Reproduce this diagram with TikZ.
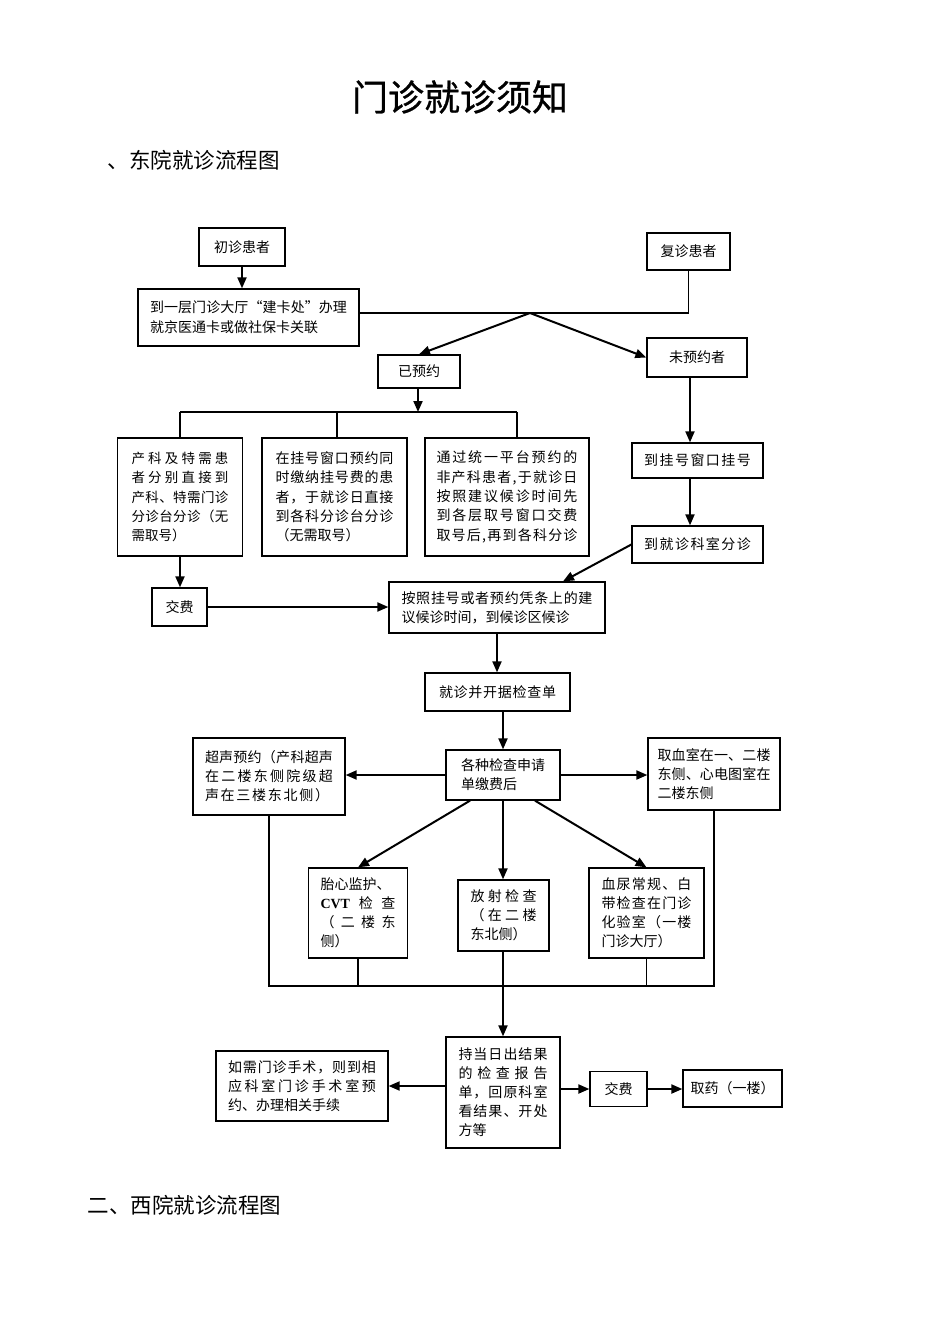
\documentclass[tikz,border=0pt]{standalone}
\usepackage{fontspec}
\setmainfont{Noto Sans CJK SC}
\newfontfamily\latinserif{Liberation Serif}
\newfontfamily\titlefont[FakeBold=0.8]{Noto Sans CJK SC}
\usetikzlibrary{arrows.meta}
\def\sprA#1{#1\sprB}
\def\sprB#1{\ifx#1\relax\else\hfil#1\expandafter\sprB\fi}
\newcommand\J[2]{\makebox[#1pt][s]{\sprA#2\relax}}
\begin{document}
\begin{tikzpicture}[x=1pt,y=-1pt,
  box/.style={draw, line width=1.3pt, inner sep=0pt, align=left, font=\fontsize{14}{19}\selectfont},
  sz/.style n args={2}{minimum width=#1pt, minimum height=#2pt},
  arr/.style={line width=2pt, -{Triangle[length=11pt,width=9pt]}},
  ln/.style={line width=1.3pt}]
\useasboundingbox[fill=white] (0,0) rectangle (950,1344);

% headings
\node[font=\titlefont\fontsize{36}{36}\selectfont] (title) at (460,97) {门诊就诊须知};
\node[anchor=west, font=\fontsize{21.5}{22}\selectfont] (h1) at (104,160) {、东院就诊流程图};
\node[anchor=west, font=\fontsize{21.5}{22}\selectfont] (h2) at (84,1205) {二、西院就诊流程图};

% top part
\node[box, sz={86}{38}] (n1) at (242,247) {初诊患者};
\node[box, sz={83}{37}] (n2) at (688.5,251.5) {复诊患者};
\node[box, sz={221}{57}, font=\fontsize{14}{20}\selectfont] (n3) at (248.5,317.5) {\J{197}{到一层门诊大厅“建卡处”办理}\\就京医通卡或做社保卡关联};
\node[box, sz={82}{33}] (n4) at (419,371.5) {已预约};
\node[box, sz={100}{39}] (n5) at (697,357.5) {未预约者};

\node[box, sz={125}{118}, font=\fontsize{13.5}{19.3}\selectfont] (nA) at (180,497)
  {\J{97}{产科及特需患}\\\J{97}{者分别直接到}\\\J{97}{产科、特需门诊}\\\J{97}{分诊台分诊（无}\\需取号）};
\node[box, sz={145}{118}, font=\fontsize{14}{19.3}\selectfont] (nB) at (334.5,497)
  {\J{118}{在挂号窗口预约同}\\\J{118}{时缴纳挂号费的患}\\\J{118}{者，于就诊日直接}\\\J{118}{到各科分诊台分诊}\\（无需取号）};
\node[box, sz={164}{118}, font=\fontsize{14}{19.3}\selectfont] (nC) at (507,497)
  {\J{141}{通过统一平台预约的}\\\J{141}{非产科患者,于就诊日}\\\J{141}{按照建议候诊时间先}\\\J{141}{到各层取号窗口交费}\\\J{141}{取号后,再到各科分诊}};

\node[box, sz={131}{35}] (n6) at (697.5,460.5) {\J{107}{到挂号窗口挂号}};
\node[box, sz={131}{37}] (n7) at (697.5,544.5) {\J{107}{到就诊科室分诊}};
\node[box, sz={55}{38}] (n8) at (179.5,607) {交费};
\node[box, sz={216}{51}] (n9) at (497,607.5) {\J{191}{按照挂号或者预约凭条上的建}\\议候诊时间，到候诊区候诊};
\node[box, sz={145}{38}] (n10) at (497.5,692) {\J{117}{就诊并开据检查单}};

% exams
\node[box, sz={114}{50}] (n11) at (503,775) {各种检查申请\\单缴费后};
\node[box, sz={152}{77}] (n12) at (269,776.5) {\J{128}{超声预约（产科超声}\\\J{128}{在二楼东侧院级超}\\\J{124}{声在三楼东北侧）}};
\node[box, sz={132}{72}] (n13) at (714,774) {\J{113}{取血室在一、二楼}\\\J{113}{东侧、心电图室在}\\二楼东侧};
\node[box, sz={99}{90}] (n14) at (358,913) {胎心监护、\\\makebox[75pt][s]{{\latinserif\bfseries CVT}\hfil 检\hfil 查}\\\J{75}{（二楼东}\\侧）};
\node[box, sz={91}{71}] (n15) at (503.5,915.5) {\J{66}{放射检查}\\\J{66}{（在二楼}\\东北侧）};
\node[box, sz={115}{90}] (n16) at (646.5,913) {\J{90}{血尿常规、白}\\\J{90}{带检查在门诊}\\\J{90}{化验室（一楼}\\门诊大厅）};

% results
\node[box, sz={114}{111}] (n17) at (503,1092.5) {\J{89}{持当日出结果}\\\J{89}{的检查报告}\\\J{89}{单，回原科室}\\\J{89}{看结果、开处}\\方等};
\node[box, sz={172}{70}] (n18) at (302,1086) {\J{148}{如需门诊手术，则到相}\\\J{148}{应科室门诊手术室预}\\约、办理相关手续};
\node[box, sz={57}{35}] (n19) at (618.5,1089) {交费};
\node[box, sz={99}{37}] (n20) at (732.5,1088.5) {取药（一楼）};

% helper coordinates
\coordinate (br) at (530,313);
\coordinate (j2) at (418,412);
\coordinate (hA) at (180,412);
\coordinate (hB) at (337,412);
\coordinate (hC) at (517,412);
\coordinate (v5) at (690,0);
\coordinate (x9) at (563,0);
\coordinate (m) at (503,986);

% connectors
\draw[arr] (n1.south) -- (n3.north -| n1.south);
\draw[ln] (n2.south) -- (n2.south |- br) -- (n3.east |- br);
\draw[arr] (br) -- (n4.north);
\draw[arr] (br) -- (n5.west);
\draw[arr] (n4.south -| j2) -- (j2);
\draw[ln] (hA) -- (hC);
\draw[ln] (hA) -- (hA |- nA.north);
\draw[ln] (hB) -- (hB |- nB.north);
\draw[ln] (hC) -- (hC |- nC.north);
\draw[arr] (n5.south -| v5) -- (n6.north -| v5);
\draw[arr] (n6.south -| v5) -- (n7.north -| v5);
\draw[arr] (n7.west) -- (n9.north -| x9);
\draw[arr] (nA.south) -- (nA.south |- n8.north);
\draw[arr] (n8.east) -- (n9.west |- n8.east);
\draw[arr] (n9.south) -- (n9.south |- n10.north);
\draw[arr] (n11.north |- n10.south) -- (n11.north);
\draw[arr] (n11.west) -- (n11.west -| n12.east);
\draw[arr] (n11.east) -- (n11.east -| n13.west);
\draw[arr] ([xshift=-33pt]n11.south) -- (n14.north);
\draw[arr] (n11.south) -- (n11.south |- n15.north);
\draw[arr] ([xshift=32pt]n11.south) -- (n16.north);
\draw[ln] (n12.south) -- (n12.south |- m) -- (n13.south |- m) -- (n13.south);
\draw[ln] (n14.south) -- (n14.south |- m);
\draw[ln] (n16.south) -- (n16.south |- m);
\draw[arr] (n15.south -| m) -- (n17.north -| m);
\draw[arr] (n17.west |- n18.east) -- (n18.east);
\draw[arr] (n17.east |- n19.west) -- (n19.west);
\draw[arr] (n19.east) -- (n20.west |- n19.east);
\end{tikzpicture}
\end{document}
